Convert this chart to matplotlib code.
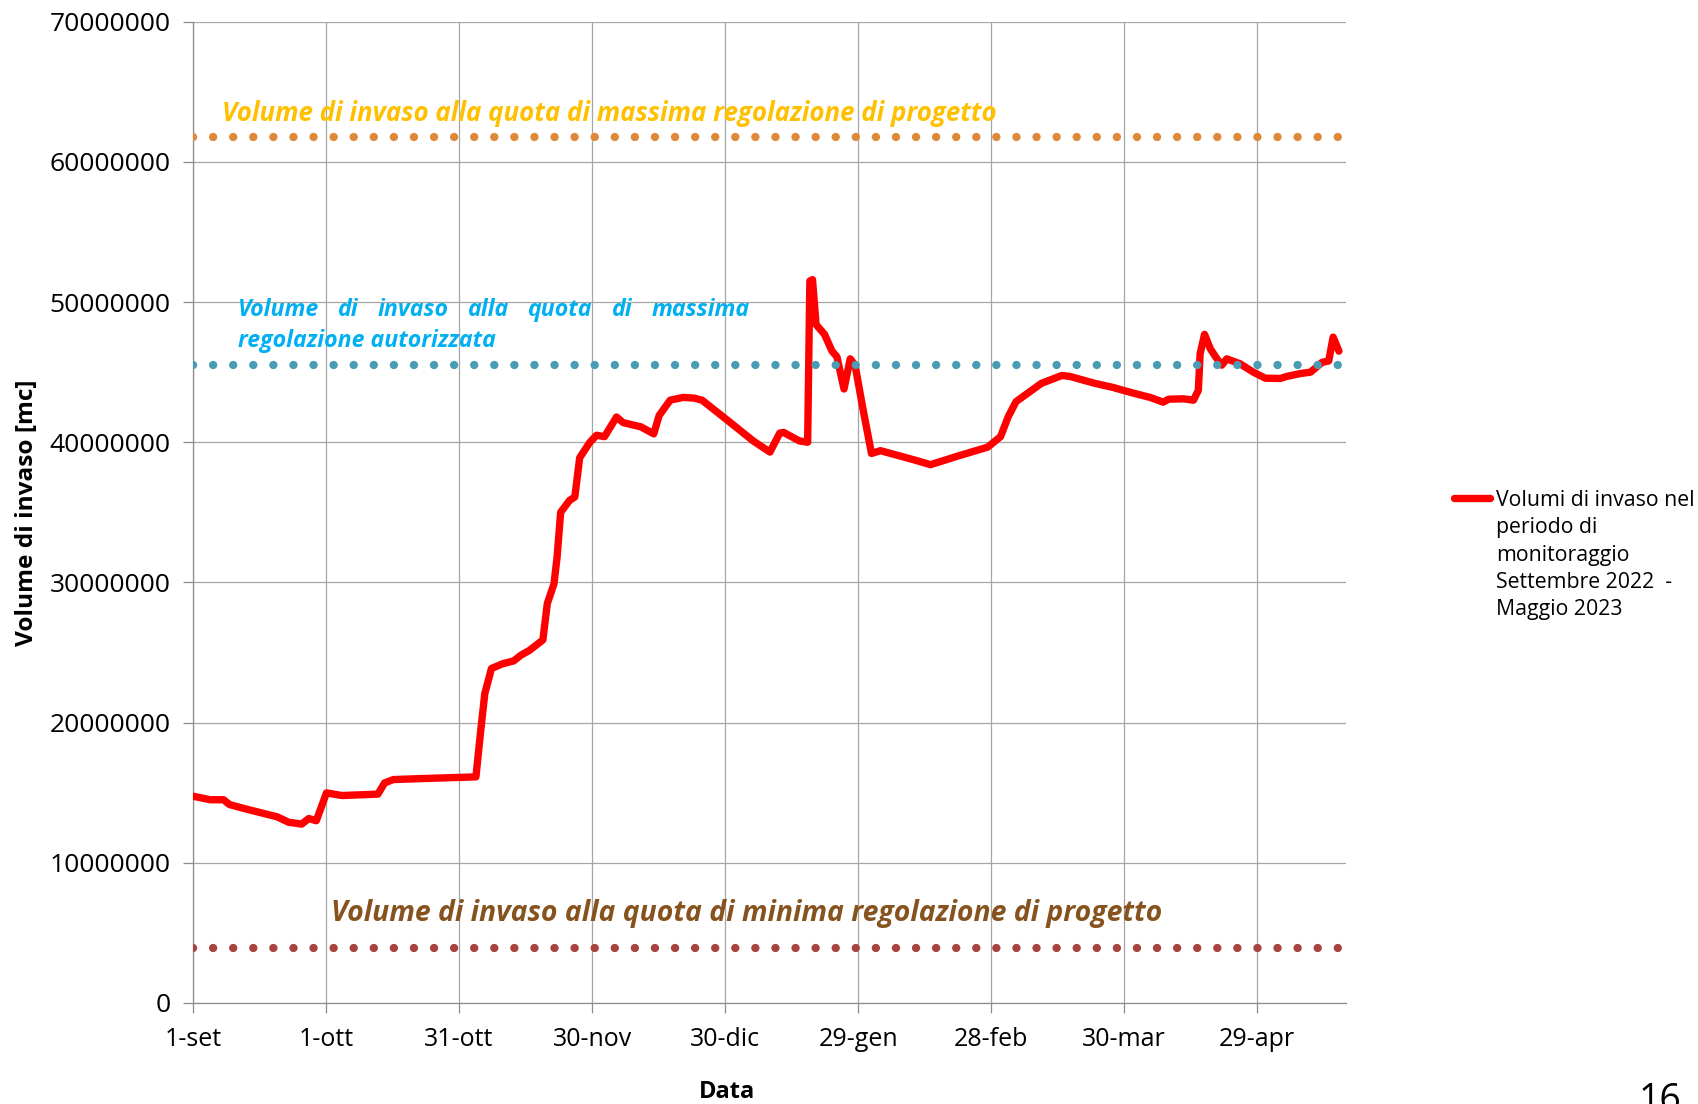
import numpy as np
import matplotlib
matplotlib.use("Agg")
from matplotlib import pyplot as plt
from matplotlib.lines import Line2D

plt.rcParams['font.family'] = ['Open Sans', 'DejaVu Sans']

# days since 1 September 2022
days = [0, 3.9, 6.9, 8.2, 12.4, 19, 21.5, 24.5, 26.1, 27.8, 30.1, 33.6, 41.7, 43.2, 45.2,
        50.7, 63.8, 64.8, 65.8, 67.3, 69.8, 72.3, 73.9, 75.9, 78.9, 79.9, 81.4, 82.1, 82.9,
        84.9, 86.1, 87.2, 89.5, 91, 92.8, 95.5, 97, 101, 103.9, 105.1, 107.6, 110.5, 113,
        114.8, 120.6, 126.3, 130.1, 132.3, 133.2, 136.7, 138.6, 139.1, 139.7, 140.5, 142.4,
        144.1, 145.2, 146.8, 148.2, 149.3, 151, 153, 155, 158.5, 163.1, 166.3, 172.3, 179.2,
        182.1, 183.8, 185.6, 191.3, 195.9, 197.7, 203.4, 207.6, 209.8, 212.1, 215.8, 218.8,
        220, 223.3, 225.6, 226.7, 227.1, 228.1, 229.4, 230.9, 232, 233.1, 236.1, 239.1,
        241.8, 245.2, 246.7, 249.7, 252, 254.6, 256.1, 257.1, 258.4]
# volume [mc]
volumi = [14.75e6, 14.5e6, 14.5e6, 14.16e6, 13.8e6, 13.28e6, 12.9e6, 12.76e6, 13.16e6, 13.0e6,
          14.99e6, 14.8e6, 14.9e6, 15.7e6, 15.94e6, 16.0e6, 16.13e6, 19.2e6, 22.07e6, 23.86e6,
          24.2e6, 24.4e6, 24.8e6, 25.16e6, 25.9e6, 28.5e6, 29.9e6, 31.8e6, 35.0e6, 35.85e6,
          36.1e6, 38.9e6, 40.0e6, 40.5e6, 40.4e6, 41.8e6, 41.4e6, 41.1e6, 40.6e6, 41.9e6,
          43.0e6, 43.2e6, 43.15e6, 43.0e6, 41.55e6, 40.1e6, 39.3e6, 40.65e6, 40.7e6, 40.1e6,
          40.0e6, 51.5e6, 51.6e6, 48.4e6, 47.7e6, 46.5e6, 46.1e6, 43.8e6, 45.95e6, 45.5e6,
          42.5e6, 39.2e6, 39.4e6, 39.1e6, 38.7e6, 38.4e6, 39.0e6, 39.65e6, 40.4e6, 41.8e6,
          42.9e6, 44.2e6, 44.76e6, 44.7e6, 44.2e6, 43.9e6, 43.7e6, 43.5e6, 43.2e6, 42.86e6,
          43.07e6, 43.1e6, 43.0e6, 43.7e6, 46.3e6, 47.7e6, 46.67e6, 45.95e6, 45.5e6, 45.95e6,
          45.6e6, 45.0e6, 44.57e6, 44.55e6, 44.7e6, 44.9e6, 45.0e6, 45.7e6, 45.8e6, 47.5e6,
          46.5e6]

vol_max_progetto = 61.8e6
vol_max_autorizzata = 45.5e6
vol_min_progetto = 3.9e6

tick_days = [0, 30, 60, 90, 120, 150, 180, 210, 240]
tick_labels = ['1-set', '1-ott', '31-ott', '30-nov', '30-dic', '29-gen', '28-feb', '30-mar', '29-apr']
y_ticks = [0, 10e6, 20e6, 30e6, 40e6, 50e6, 60e6, 70e6]
y_labels = ['0', '10000000', '20000000', '30000000', '40000000', '50000000', '60000000', '70000000']

W, H = 1698, 1104
fig = plt.figure(figsize=(W / 100, H / 100), dpi=100)
ax = fig.add_axes([193 / W, 1 - 1003 / H, (1346 - 193) / W, (1003 - 21.7) / H])

ax.plot(days, volumi, color='#FF0000', lw=5.3, solid_capstyle='round', solid_joinstyle='round', zorder=3)

dots = (0, (0.01, 2.4))
for val, col in [(vol_max_progetto, '#E0883A'), (vol_max_autorizzata, '#4A9CB4'), (vol_min_progetto, '#A8443F')]:
    ax.axhline(val, color=col, lw=6, linestyle=dots, dash_capstyle='round', zorder=4)

ax.set_xlim(0, 260)
ax.set_ylim(0, 70e6)
ax.set_xticks(tick_days)
ax.set_xticklabels(tick_labels)
ax.set_yticks(y_ticks)
ax.set_yticklabels(y_labels)
ax.grid(True, color='#A6A6A6', lw=0.9)
ax.set_axisbelow(True)
for s in ['top', 'right']:
    ax.spines[s].set_visible(False)
for s in ['left', 'bottom']:
    ax.spines[s].set_color('#8C8C8C')
    ax.spines[s].set_linewidth(0.9)
ax.tick_params(axis='both', colors='#8C8C8C', labelcolor='black', length=7, width=0.9)
ax.tick_params(axis='y', pad=9, labelsize=19)
ax.tick_params(axis='x', pad=10, labelsize=18)

# annotations on the reference levels
ax.text(6.5, 63.46e6, 'Volume di invaso alla quota di massima regolazione di progetto',
        color='#FFC000', fontsize=18.6, fontweight='bold', style='italic', va='center', ha='left')
ax.text(31.1, 6.41e6, 'Volume di invaso alla quota di minima regolazione di progetto',
        color='#86531F', fontsize=20.4, fontweight='bold', style='italic', va='center', ha='left')

# justified first line of the blue label
renderer = fig.canvas.get_renderer()
words = 'Volume di invaso alla quota di massima'.split()
x0, x1 = 10.1, 125.6
px_per_day = ax.transData.transform((1, 0))[0] - ax.transData.transform((0, 0))[0]
texts = [ax.text(0, 49.45e6, w, color='#00B0F0', fontsize=16.7, fontweight='bold', style='italic',
                 va='center', ha='left') for w in words]
widths = [t.get_window_extent(renderer).width / px_per_day for t in texts]
gap = (x1 - x0 - sum(widths)) / (len(words) - 1)
x = x0
for t, w in zip(texts, widths):
    t.set_x(x)
    x += w + gap
ax.text(x0, 47.2e6, 'regolazione autorizzata', color='#00B0F0', fontsize=16.7,
        fontweight='bold', style='italic', va='center', ha='left')

fig.text(27 / W, 1 - 513 / H, 'Volume di invaso [mc]', rotation=90, fontsize=17.6,
         fontweight='bold', ha='center', va='center')
fig.text(727 / W, 1 - 1092 / H, 'Data', fontsize=17, fontweight='bold', ha='center', va='center')

# legend
fig.add_artist(Line2D([1454 / W, 1490 / W], [1 - 498 / H, 1 - 498 / H], color='#FF0000',
                      lw=5.3, solid_capstyle='round', transform=fig.transFigure))
fig.text(1496 / W, 1 - 555 / H,
         'Volumi di invaso nel\nperiodo di\nmonitoraggio\nSettembre 2022  -\nMaggio 2023',
         fontsize=15.3, ha='left', va='center', linespacing=1.38)

# page number, partly cut by the lower edge as in the source page
fig.text(1660 / W, 1 - 1082 / H, '16', fontsize=27, ha='center', va='top')

fig.savefig('out.png', dpi=100)
